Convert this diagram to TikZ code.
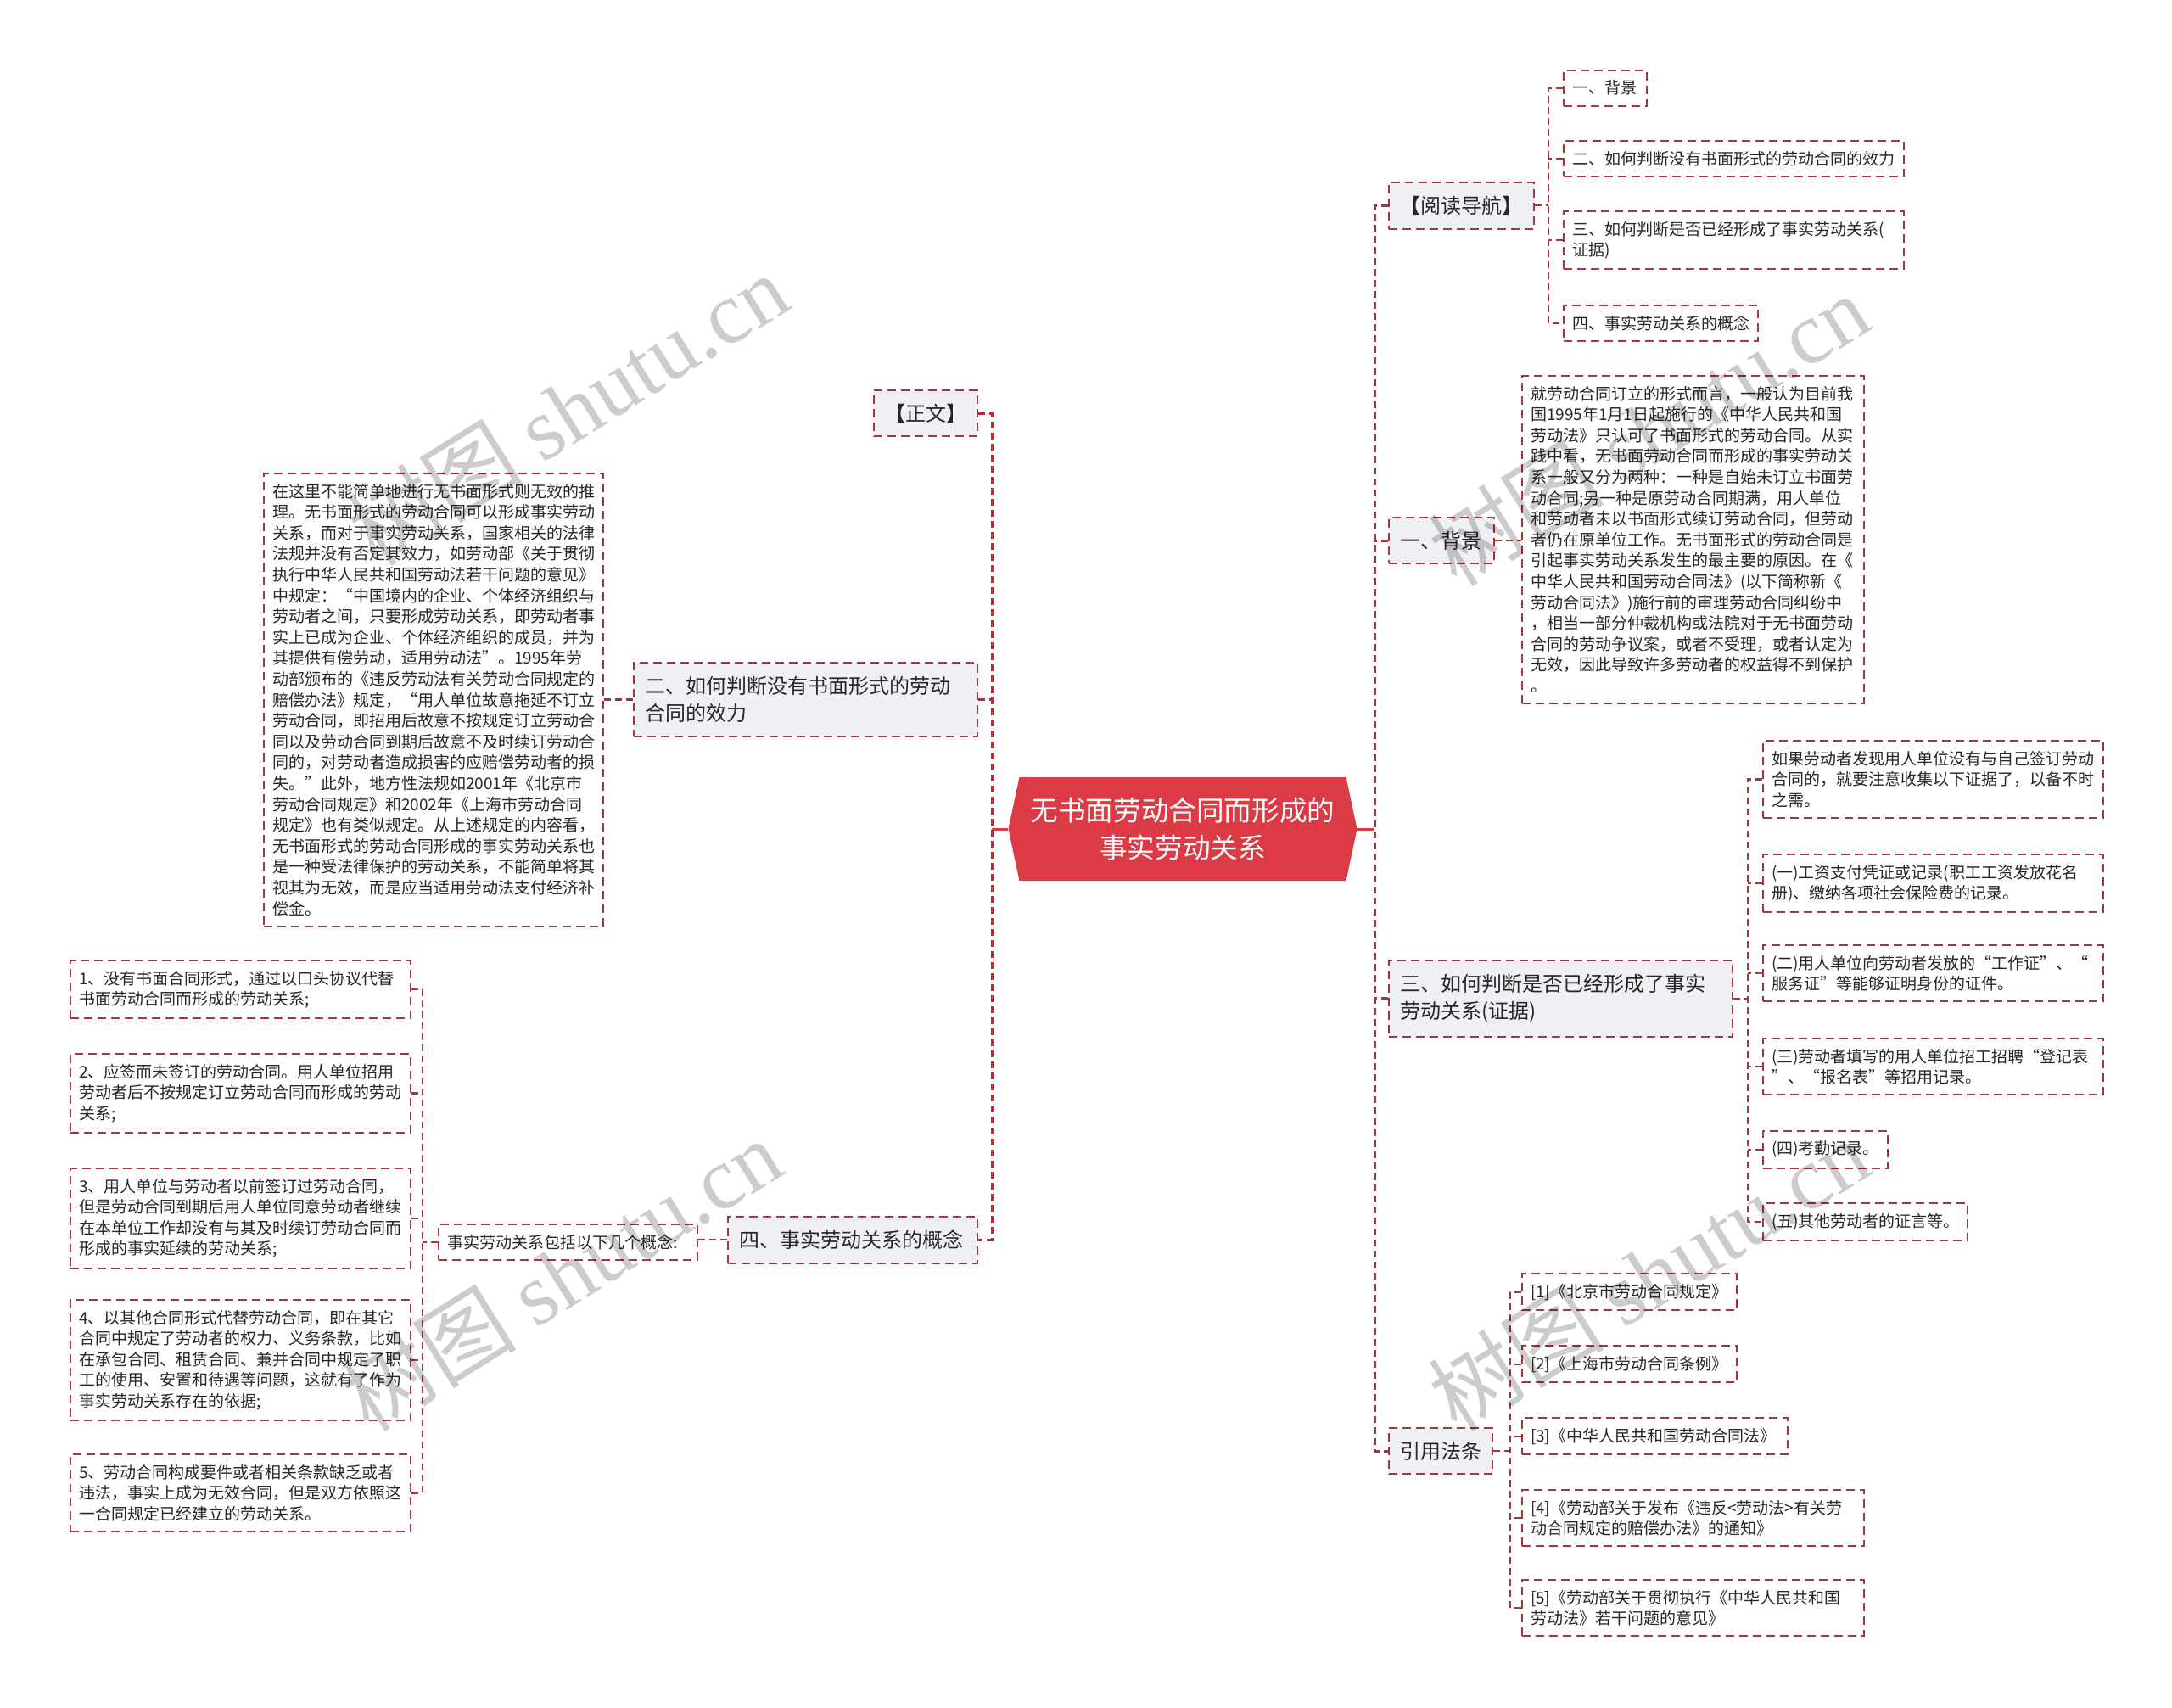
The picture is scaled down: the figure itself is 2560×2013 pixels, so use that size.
\documentclass[tikz,border=0pt]{standalone}
\usepackage{fontspec}
\setmainfont{Noto Sans CJK SC}
\newfontfamily\wmlatin{Liberation Serif}
\usetikzlibrary{shapes.symbols}
\definecolor{ink}      {HTML}{262626}
\definecolor{rootred}  {HTML}{DC3B45}
\definecolor{rim}      {HTML}{A6343E}
\definecolor{topicfill}{HTML}{EEF0F4}
\tikzset{
  % --- nodes
  topic/.style = {draw=rim, dashed, dash pattern=on 5pt off 3pt, line width=1pt,
                  fill=topicfill, text=ink, align=left, anchor=north west,
                  inner xsep=6.5pt, inner ysep=8pt, font=\fontsize{12}{16.3}\selectfont},
  leaf/.style  = {topic, fill=white, inner xsep=5pt, inner ysep=6pt,
                  font=\fontsize{9.5}{12.3}\selectfont},
  root/.style  = {shape=signal, signal to=west and east, signal pointer angle=156,
                  fill=rootred, text=white, align=center, minimum width=205.5pt,
                  minimum height=61pt, font=\fontsize{16.3}{22}\selectfont},
  wmark/.style = {text=black, text opacity=0.2, rotate=32, font=\fontsize{52}{52}\selectfont},
  % --- edges
  trunk/.style = {draw=rim, dashed, dash pattern=on 4pt off 2.5pt, line width=1.5pt},
  twig/.style  = {trunk, line width=1.1pt},
  stem/.style  = {draw=rootred, line width=1.5pt},
}

\begin{document}
\begin{tikzpicture}[x=0.5pt, y=-0.5pt]
  \useasboundingbox (0,0) rectangle (2560,2013);
  \node[root] (root) at (1394,977) {无书面劳动合同而形成的\\事实劳动关系};

  % left side
  \node[topic, text width=48pt] (zw) at (1029,459) {【正文】};
  \node[topic, text width=189.5pt] (n2) at (746,780) {二、如何判断没有书面形式的劳动\\合同的效力};
  \node[leaf, text width=190pt] (n2t) at (310,557) {在这里不能简单地进行无书面形式则无效的推\\理。无书面形式的劳动合同可以形成事实劳动\\关系，而对于事实劳动关系，国家相关的法律\\法规并没有否定其效力，如劳动部《关于贯彻\\执行中华人民共和国劳动法若干问题的意见》\\中规定：“中国境内的企业、个体经济组织与\\劳动者之间，只要形成劳动关系，即劳动者事\\实上已成为企业、个体经济组织的成员，并为\\其提供有偿劳动，适用劳动法”。1995年劳\\动部颁布的《违反劳动法有关劳动合同规定的\\赔偿办法》规定，“用人单位故意拖延不订立\\劳动合同，即招用后故意不按规定订立劳动合\\同以及劳动合同到期后故意不及时续订劳动合\\同的，对劳动者造成损害的应赔偿劳动者的损\\失。”此外，地方性法规如2001年《北京市\\劳动合同规定》和2002年《上海市劳动合同\\规定》也有类似规定。从上述规定的内容看，\\无书面形式的劳动合同形成的事实劳动关系也\\是一种受法律保护的劳动关系，不能简单将其\\视其为无效，而是应当适用劳动法支付经济补\\偿金。};
  \node[topic, text width=134pt] (n4) at (857,1433) {四、事实劳动关系的概念};
  \node[leaf, text width=142.5pt] (n4t) at (516,1442) {事实劳动关系包括以下几个概念:};
  \node[leaf, text width=190.5pt] (it1) at (82,1131) {1、没有书面合同形式，通过以口头协议代替\\书面劳动合同而形成的劳动关系;};
  \node[leaf, text width=190.5pt] (it2) at (82,1241) {2、应签而未签订的劳动合同。用人单位招用\\劳动者后不按规定订立劳动合同而形成的劳动\\关系;};
  \node[leaf, text width=190.5pt] (it3) at (82,1376) {3、用人单位与劳动者以前签订过劳动合同，\\但是劳动合同到期后用人单位同意劳动者继续\\在本单位工作却没有与其及时续订劳动合同而\\形成的事实延续的劳动关系;};
  \node[leaf, text width=190.5pt] (it4) at (82,1531) {4、以其他合同形式代替劳动合同，即在其它\\合同中规定了劳动者的权力、义务条款，比如\\在承包合同、租赁合同、兼并合同中规定了职\\工的使用、安置和待遇等问题，这就有了作为\\事实劳动关系存在的依据;};
  \node[leaf, text width=190.5pt] (it5) at (82,1713) {5、劳动合同构成要件或者相关条款缺乏或者\\违法，事实上成为无效合同，但是双方依照这\\一合同规定已经建立的劳动关系。};

  % right side
  \node[topic, text width=72.5pt] (nav) at (1636,214) {【阅读导航】};
  \node[leaf, text width=39pt] (nv1) at (1842,82) {一、背景};
  \node[leaf, text width=190.5pt] (nv2) at (1842,165) {二、如何判断没有书面形式的劳动合同的效力};
  \node[leaf, text width=190.5pt] (nv3) at (1842,248) {三、如何判断是否已经形成了事实劳动关系(\\证据)};
  \node[leaf, text width=104.5pt] (nv4) at (1842,359) {四、事实劳动关系的概念};
  \node[topic, text width=49pt] (bg) at (1636,609) {一、背景};
  \node[leaf, text width=191.5pt] (bgt) at (1793,442) {就劳动合同订立的形式而言，一般认为目前我\\国1995年1月1日起施行的《中华人民共和国\\劳动法》只认可了书面形式的劳动合同。从实\\践中看，无书面劳动合同而形成的事实劳动关\\系一般又分为两种：一种是自始未订立书面劳\\动合同;另一种是原劳动合同期满，用人单位\\和劳动者未以书面形式续订劳动合同，但劳动\\者仍在原单位工作。无书面形式的劳动合同是\\引起事实劳动关系发生的最主要的原因。在《\\中华人民共和国劳动合同法》(以下简称新《\\劳动合同法》)施行前的审理劳动合同纠纷中\\，相当一部分仲裁机构或法院对于无书面劳动\\合同的劳动争议案，或者不受理，或者认定为\\无效，因此导致许多劳动者的权益得不到保护\\。};
  \node[topic, text width=189.5pt] (n3) at (1636,1131) {三、如何判断是否已经形成了事实\\劳动关系(证据)};
  \node[leaf, text width=190.5pt] (ev0) at (2077,872) {如果劳动者发现用人单位没有与自己签订劳动\\合同的，就要注意收集以下证据了，以备不时\\之需。};
  \node[leaf, text width=190.5pt] (ev1) at (2077,1006) {(一)工资支付凭证或记录(职工工资发放花名\\册)、缴纳各项社会保险费的记录。};
  \node[leaf, text width=190.5pt] (ev2) at (2077,1113) {(二)用人单位向劳动者发放的“工作证”、“\\服务证”等能够证明身份的证件。};
  \node[leaf, text width=190.5pt] (ev3) at (2077,1223) {(三)劳动者填写的用人单位招工招聘“登记表\\”、“报名表”等招用记录。};
  \node[leaf, text width=63.5pt] (ev4) at (2077,1332) {(四)考勤记录。};
  \node[leaf, text width=110.5pt] (ev5) at (2077,1417) {(五)其他劳动者的证言等。};
  \node[topic, text width=48pt] (law) at (1636,1682) {引用法条};
  \node[leaf, text width=116.5pt] (lw1) at (1793,1500) {[1]《北京市劳动合同规定》};
  \node[leaf, text width=116.5pt] (lw2) at (1793,1585) {[2]《上海市劳动合同条例》};
  \node[leaf, text width=146.5pt] (lw3) at (1793,1670) {[3]《中华人民共和国劳动合同法》};
  \node[leaf, text width=191.5pt] (lw4) at (1793,1755) {[4]《劳动部关于发布《违反<劳动法>有关劳\\动合同规定的赔偿办法》的通知》};
  \node[leaf, text width=191.5pt] (lw5) at (1793,1861) {[5]《劳动部关于贯彻执行《中华人民共和国\\劳动法》若干问题的意见》};

  % trunks
  \coordinate (lx) at (1169,0); \coordinate (rx) at (1620,0); \coordinate (itx) at (498,0);
  \coordinate (navx) at (1825,0); \coordinate (evx) at (2060,0); \coordinate (lawx) at (1780,0);

  \draw[stem] (root.west) -- (root.west -| lx); \draw[stem] (root.east) -- (root.east -| rx);
  \draw[trunk] (zw.east) -- (zw.east -| lx) -- (n4.east -| lx) -- (n4.east);
  \draw[trunk] (n2.east) -- (n2.east -| lx);
  \draw[trunk] (nav.west) -- (nav.west -| rx) -- (law.west -| rx) -- (law.west);
  \draw[trunk] (bg.west) -- (bg.west -| rx); \draw[trunk] (n3.west) -- (n3.west -| rx);

  \draw[twig] (n2.west) -- (n2.west -| n2t.east);
  \draw[twig] (bg.east) -- (bg.east -| bgt.west);
  \draw[twig] (n4.west) -- (n4.west -| n4t.east);
  \draw[twig] (n4t.west) -- (n4t.west -| itx);
  \draw[twig] (it1.east) -- (it1.east -| itx) -- (it5.east -| itx) -- (it5.east);
  \draw[twig] (it2.east) -- (it2.east -| itx); \draw[twig] (it3.east) -- (it3.east -| itx); \draw[twig] (it4.east) -- (it4.east -| itx);
  \draw[twig] (nav.east) -- (nav.east -| navx);
  \draw[twig] (nv1.west) -- (nv1.west -| navx) -- (nv4.west -| navx) -- (nv4.west);
  \draw[twig] (nv2.west) -- (nv2.west -| navx); \draw[twig] (nv3.west) -- (nv3.west -| navx);
  \draw[twig] (n3.east) -- (n3.east -| evx);
  \draw[twig] (ev0.west) -- (ev0.west -| evx) -- (ev5.west -| evx) -- (ev5.west);
  \draw[twig] (ev1.west) -- (ev1.west -| evx); \draw[twig] (ev2.west) -- (ev2.west -| evx);
  \draw[twig] (ev3.west) -- (ev3.west -| evx); \draw[twig] (ev4.west) -- (ev4.west -| evx);
  \draw[twig] (law.east) -- (law.east -| lawx);
  \draw[twig] (lw1.west) -- (lw1.west -| lawx) -- (lw5.west -| lawx) -- (lw5.west);
  \draw[twig] (lw2.west) -- (lw2.west -| lawx); \draw[twig] (lw3.west) -- (lw3.west -| lawx); \draw[twig] (lw4.west) -- (lw4.west -| lawx);

  % watermarks
  \node[wmark] (wm1) at (669,482) {树图 {\wmlatin shutu.cn}};
  \node[wmark] (wm2) at (661,1502) {树图 {\wmlatin shutu.cn}};
  \node[wmark] (wm3) at (1943,506) {树图 {\wmlatin shutu.cn}};
  \node[wmark] (wm4) at (1943,1502) {树图 {\wmlatin shutu.cn}};
\end{tikzpicture}
\end{document}
